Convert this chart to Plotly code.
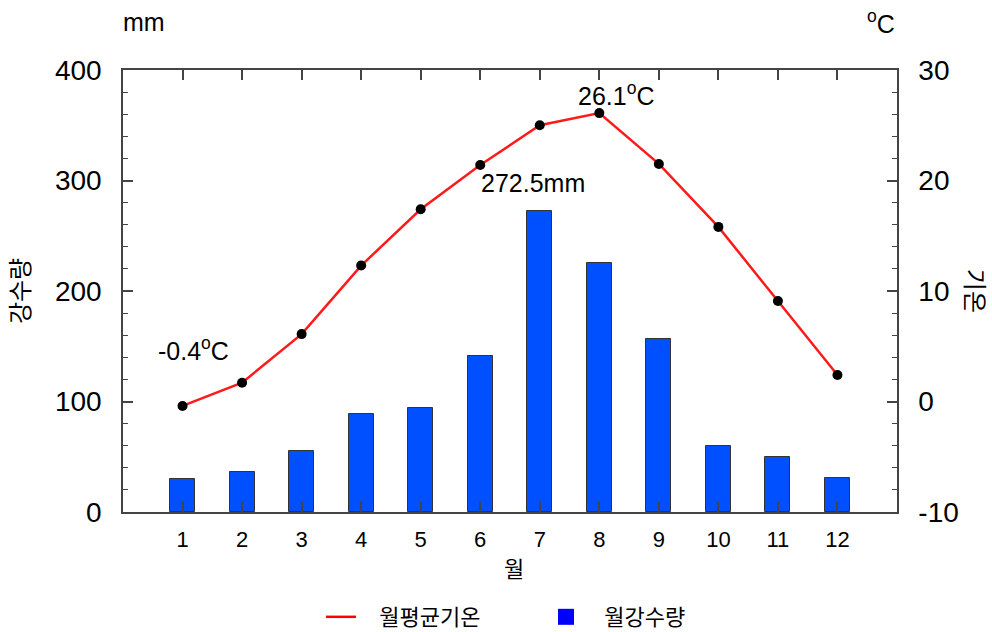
import plotly.graph_objects as go

months = [1, 2, 3, 4, 5, 6, 7, 8, 9, 10, 11, 12]
month_labels = [str(m) for m in months]
precip = [29.5, 36.5, 55.5, 88.5, 94.5, 141.5, 272.5, 225.0, 156.5, 60.0, 49.5, 30.5]
temp = [-0.4, 1.7, 6.1, 12.3, 17.4, 21.4, 25.0, 26.1, 21.5, 15.8, 9.1, 2.4]
precip_ticks = [0, 100, 200, 300, 400]
temp_ticks = [-10, 0, 10, 20, 30]

FONT = "Liberation Sans, Arial, Noto Sans CJK KR, sans-serif"
AX = "#444444"
DEG = "<sup>o</sup>C"
NB = "\u00a0"

fig = go.Figure()
fig.add_trace(go.Bar(
    x=months, y=precip, width=0.42, yaxis="y",
    marker=dict(color="#0050ff", line=dict(color="#333333", width=1)),
    showlegend=False, name="월강수량"))
fig.add_trace(go.Scatter(
    x=months, y=temp, yaxis="y2", mode="lines+markers",
    line=dict(color="#ff1a1a", width=2.5),
    marker=dict(color="black", size=10),
    showlegend=False, name="월평균기온"))
# legend entries
fig.add_trace(go.Scatter(x=[None], y=[None], mode="lines", name=NB * 3 + "월평균기온",
                         line=dict(color="#ff0000", width=2.5), yaxis="y2"))
fig.add_trace(go.Scatter(x=[None], y=[None], mode="markers", name=NB * 3 + "월강수량",
                         marker=dict(color="#0000ff", symbol="square", size=19), yaxis="y2"))

fig.update_layout(
    width=992, height=632,
    margin=dict(l=123, r=95, t=70, b=120, autoexpand=False),
    paper_bgcolor="white", plot_bgcolor="white",
    font=dict(family=FONT, color="black"),
    bargap=0,
    xaxis=dict(range=[0, 13], tickvals=months, ticktext=month_labels,
               ticks="inside", ticklen=10, tickwidth=1.5, tickcolor=AX,
               showline=True, linecolor=AX, linewidth=1.5, mirror="ticks",
               showgrid=False, zeroline=False, tickfont=dict(size=22),
               ticklabelstandoff=7),
    yaxis=dict(range=[0, 400], tickvals=precip_ticks,
               ticktext=[str(t) for t in precip_ticks],
               ticks="inside", ticklen=10, tickwidth=1.5, tickcolor=AX,
               showline=True, linecolor=AX, linewidth=1.5,
               showgrid=False, zeroline=False, tickfont=dict(size=28),
               ticklabelstandoff=14,
               minor=dict(dtick=20, ticks="inside", ticklen=5, tickcolor=AX, tickwidth=1)),
    yaxis2=dict(range=[-10, 30], tickvals=temp_ticks,
                ticktext=[str(t) for t in temp_ticks],
                overlaying="y", side="right",
                ticks="inside", ticklen=10, tickwidth=1.5, tickcolor=AX,
                showline=True, linecolor=AX, linewidth=1.5,
                showgrid=False, zeroline=False, tickfont=dict(size=28),
                ticklabelstandoff=14,
                minor=dict(dtick=2, ticks="inside", ticklen=5, tickcolor=AX, tickwidth=1)),
    legend=dict(orientation="h", xref="container", yref="container",
                x=0.3236, xanchor="left", y=0.0237, yanchor="middle",
                font=dict(size=22), tracegroupgap=0, entrywidth=180),
)

ann = []
ann.append(dict(text="mm", xref="paper", yref="paper", x=-0.002, y=1.108, xanchor="left",
                yanchor="middle", showarrow=False, font=dict(size=25)))
ann.append(dict(text=DEG, xref="paper", yref="paper", x=1.0, y=1.108, xanchor="right",
                yanchor="middle", showarrow=False, font=dict(size=25)))
ann.append(dict(text="강수량", xref="paper", yref="paper", x=-0.133, y=0.5, xanchor="center",
                yanchor="middle", textangle=-90, showarrow=False, font=dict(size=24)))
ann.append(dict(text="기온", xref="paper", yref="paper", x=1.101, y=0.5, xanchor="center",
                yanchor="middle", textangle=90, showarrow=False, font=dict(size=24)))
ann.append(dict(text="월", xref="paper", yref="paper", x=0.505, y=-0.13, xanchor="center",
                yanchor="middle", showarrow=False, font=dict(size=22)))
# data labels
ann.append(dict(text=f"{temp[0]}{DEG}", x=months[0], y=temp[0], xref="x", yref="y2",
                xshift=11, yshift=57, showarrow=False, font=dict(size=25)))
ann.append(dict(text=f"{precip[6]}mm", x=months[6], y=precip[6], xref="x", yref="y",
                xshift=-7, yshift=28, showarrow=False, font=dict(size=25)))
ann.append(dict(text=f"{temp[7]}{DEG}", x=months[7], y=temp[7], xref="x", yref="y2",
                xshift=17, yshift=19, showarrow=False, font=dict(size=25)))
fig.update_layout(annotations=ann)

fig.write_html("out.html", config={"displayModeBar": False},
               post_script="document.body.style.margin='0';document.body.style.padding='0';")
